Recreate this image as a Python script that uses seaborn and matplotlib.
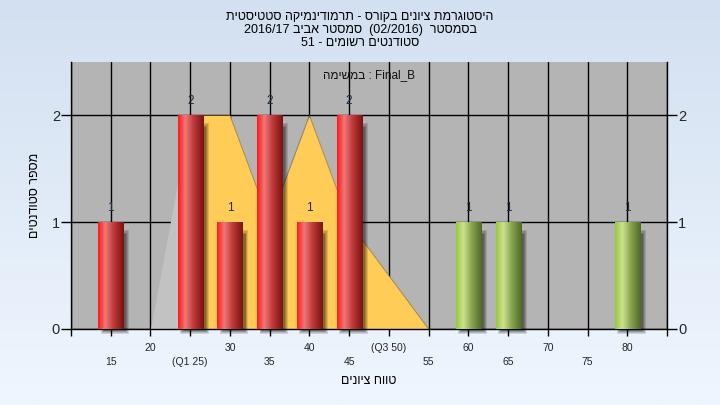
import numpy as np
import pandas as pd
import matplotlib.pyplot as plt
import seaborn as sns
from matplotlib.colors import LinearSegmentedColormap
from matplotlib.patches import Rectangle

# Grade histogram data
scores = [15, 25, 30, 35, 40, 45, 60, 65, 80]
counts = [1, 2, 1, 2, 1, 2, 1, 1, 1]
status = ['fail', 'fail', 'fail', 'fail', 'fail', 'fail', 'pass', 'pass', 'pass']

# Frequency polygon behind the bars
poly_x = [20, 25, 30, 35, 40, 45, 50, 55]
poly_y = [0, 2, 2, 1, 2, 1, 0.5, 0]

# Two rows of x tick labels
major_ticks = [10, 20, 30, 40, 50, 60, 70, 80]
major_labels = ['', '20', '30', '40', '(Q3 50)', '60', '70', '80']
minor_ticks = [15, 25, 35, 45, 55, 65, 75, 85]
minor_labels = ['15', '(Q1 25)', '35', '45', '55', '65', '75', '']
y_ticks = [0, 1, 2]


def rtl(s):
    # matplotlib draws left to right, so Hebrew runs are given in visual order
    return s[::-1]


title_lines = [
    rtl('היסטוגרמת ציונים בקורס - תרמודינמיקה סטטיסטית'),
    '2016/17 ' + rtl('סמסטר אביב') + '  (02/2016)  ' + rtl('בסמסטר'),
    '51 - ' + rtl('סטודנטים רשומים'),
]
inner_label = rtl('במשימה') + ' : Final_B'
x_label = rtl('טווח ציונים')
y_label = rtl('מספר סטודנטים')

sns.set_style('white')
plt.rcParams['font.family'] = ['Liberation Sans', 'DejaVu Sans']

df = pd.DataFrame({'score': scores, 'count': counts, 'status': status})

fig = plt.figure(figsize=(7.2, 4.05), dpi=100)

# light blue gradient background
bg = fig.add_axes([0, 0, 1, 1], zorder=-1)
bg.imshow(np.linspace(0, 1, 256).reshape(-1, 1), aspect='auto', extent=[0, 1, 0, 1],
          cmap=LinearSegmentedColormap.from_list('bg', ['#d3e0f1', '#eff6fe']))
bg.axis('off')

ax = fig.add_axes([0.0986, 0.1877, 0.8278, 0.6593])
ax.set_facecolor('#b4b4b4')

# polygon: grey part before Q1, yellow part after
ax.fill_between(poly_x[:2], poly_y[:2], color='#c2c2c2', lw=0, zorder=1)
ax.fill_between(poly_x[1:], poly_y[1:], color='#ffcc57', lw=0, zorder=1)
ax.plot(poly_x[1:], poly_y[1:], color='#7a6438', lw=0.7, alpha=0.6, zorder=1.1)

sns.barplot(data=df, x='score', y='count', hue='status',
            palette={'fail': '#e02020', 'pass': '#9cc050'},
            native_scale=True, width=0.63, dodge=False, legend=False,
            linewidth=0, ax=ax, zorder=3)

red_cm = LinearSegmentedColormap.from_list('red', [(0, '#ff1a1a'), (0.28, '#f07878'),
                                                   (0.6, '#c03a3a'), (1, '#7a1212')])
green_cm = LinearSegmentedColormap.from_list('green', [(0, '#98c83e'), (0.28, '#cbe290'),
                                                       (0.6, '#8aa650'), (1, '#4e6a26')])
row = np.linspace(0, 1, 64).reshape(1, -1)

for p in list(ax.patches):
    if not isinstance(p, Rectangle) or p.get_height() <= 0:
        continue
    x0, y0, w, h = p.get_x(), p.get_y(), p.get_width(), p.get_height()
    fc = p.get_facecolor()
    cm = red_cm if fc[0] > fc[1] else green_cm
    # soft drop shadow to the right
    for k, a in enumerate([0.12, 0.14, 0.16, 0.18]):
        d = k * 0.12
        ax.add_patch(Rectangle((x0 + 0.3 + d, y0 - 0.05 + d * 0.08), w + 0.45 - 2 * d,
                               h - 0.02 - d * 0.2, color='black', alpha=a, lw=0,
                               zorder=2.5, clip_on=False))
    ax.imshow(row, extent=[x0, x0 + w, y0, y0 + h], aspect='auto', cmap=cm, zorder=3.1)

for s, c in zip(scores, counts):
    ax.text(s, c + 0.08, str(c), ha='center', va='bottom', fontsize=8.5,
            color='#1c2c44', zorder=4)

ax.set_xlim(10, 85)
ax.set_ylim(0, 2.5)
ax.set_xlabel('')
ax.set_ylabel('')

ax.set_xticks(major_ticks)
ax.set_xticklabels(major_labels)
ax.set_xticks(minor_ticks, minor=True)
ax.set_xticklabels(minor_labels, minor=True)
ax.set_yticks(y_ticks)
ax.set_yticklabels([str(t) for t in y_ticks])

ax.set_axisbelow(True)
ax.grid(which='both', axis='x', color='black', lw=1)
ax.grid(which='major', axis='y', color='black', lw=1)

ax.tick_params(axis='x', which='both', direction='out', length=5, width=1,
               color='black', labelsize=7.5, bottom=True)
ax.tick_params(axis='x', which='major', pad=5)
ax.tick_params(axis='x', which='minor', pad=15.5)
ax.tick_params(axis='y', direction='out', length=7, width=1, color='black',
               labelsize=10.5, pad=1, left=True, right=True,
               labelleft=True, labelright=True)

for side in ['left', 'right', 'bottom']:
    ax.spines[side].set_visible(True)
    ax.spines[side].set_color('black')
    ax.spines[side].set_linewidth(1)
ax.spines['top'].set_visible(False)

ax.text(0.5, 0.95, inner_label, transform=ax.transAxes, ha='center', va='center',
        fontsize=8.5, color='#101010', zorder=5)

for i, line in enumerate(title_lines):
    fig.text(0.5, 0.958 - i * 0.032, line, ha='center', va='center', fontsize=9,
             color='black')

fig.text(0.5125, 0.059, x_label, ha='center', va='center', fontsize=9, color='black')
fig.text(0.048, 0.5185, y_label, ha='center', va='center', rotation=90,
         fontsize=9, color='black')

fig.savefig('out.png', dpi=100)
